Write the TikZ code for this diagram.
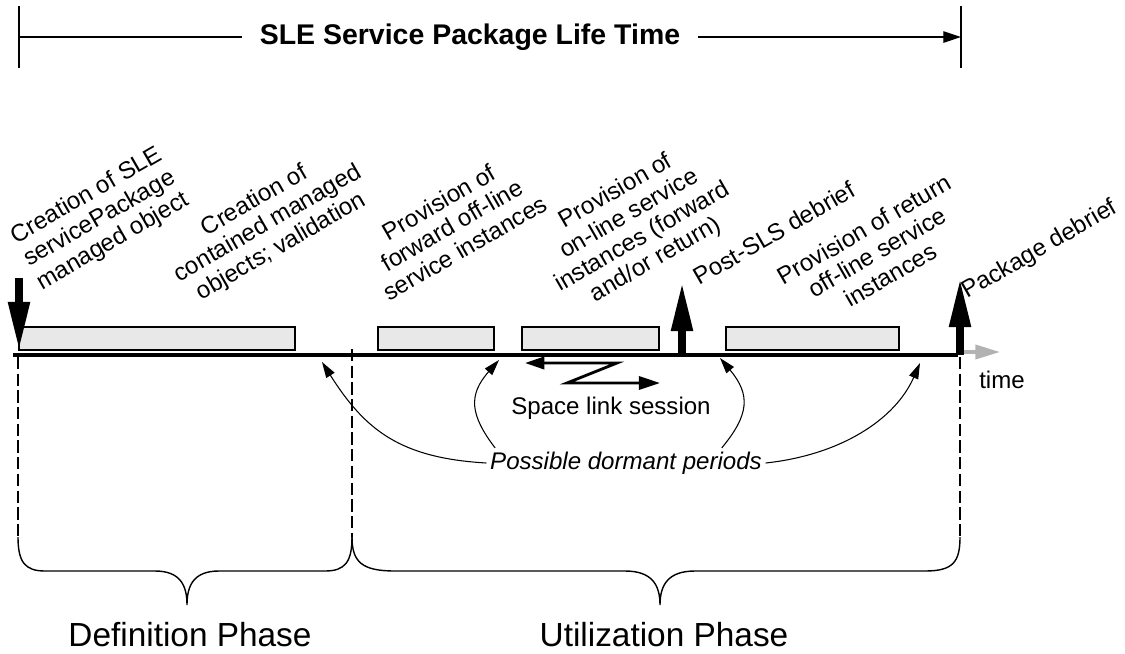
\documentclass[tikz,border=0pt]{standalone}
\usepackage{fontspec}
\setmainfont{Liberation Sans}
\usetikzlibrary{arrows.meta,positioning}

\begin{document}
\begin{tikzpicture}[x=0.02cm, y=0.02cm, >={Triangle[length=9pt,width=5.5pt]},
  slot/.style={draw, line width=0.6pt, fill=black!9},
  lbl/.style={rotate=30, align=center, inner sep=0pt, font=\fontsize{13.7}{15}\selectfont},
  marker/.style={line width=4.5pt, -{Triangle[length=28pt,width=11.5pt]}},
  vline/.style={line width=0.6pt, dash pattern=on 7pt off 2.5pt},
  brace/.style={line width=0.8pt},
  period/.style={line width=0.6pt, ->},
  phase/.style={anchor=base, font=\fontsize{19}{22}\selectfont}]
\path[use as bounding box] (0,0) rectangle (1125,-653);
\node[inner xsep=10pt, font=\fontsize{16.2}{18}\selectfont\bfseries](life) at (470,-37){SLE Service Package Life Time};
\coordinate (lstart) at (19,-37);
\coordinate (lend) at (961,-37);
\draw[line width=0.6pt] (19,-6) -- (19,-68);
\draw[line width=0.6pt] (961,-6) -- (961,-68);
\draw[line width=0.6pt] (lstart) -- (life.west);
\draw[line width=0.6pt, -{Triangle[length=10pt,width=6.5pt]}] (life.east) -- (lend);
\node[lbl](mkpkg) at (100,-219){Creation of SLE\\servicePackage\\managed object};
\node[lbl](mkobj) at (268,-224){Creation of\\contained managed\\objects; validation};
\node[lbl](fwdoff) at (452,-225){Provision of\\forward off-line\\service instances};
\node[lbl](online) at (636,-226){Provision of\\on-line service\\instances (forward\\and/or return)};
\node[lbl](postsls) at (774,-233){Post-SLS debrief};
\node[lbl](retoff) at (877,-252){Provision of return\\off-line service\\instances};
\node[lbl](pkgdeb) at (1040,-250){Package debrief};
\draw[slot] (19,-327) rectangle (295,-350);
\draw[slot] (378,-327) rectangle (494,-350);
\draw[slot] (522,-327) rectangle (659,-350);
\draw[slot] (726,-327) rectangle (899,-350);
\coordinate (t0) at (13,-355);
\coordinate (tend) at (958,-355);
\draw[line width=2.2pt] (t0) -- (tend);
\draw[black!30, line width=2pt, -{Triangle[length=14pt,width=8pt]}] (964,-352) -- (1000,-352);
\draw[marker] (19,-278) -- (19,-351);
\draw[marker] (682,-355) -- (682,-282);
\draw[marker] (960,-355) -- (960,-278);
\draw[line width=1.6pt, line join=miter, {Triangle[length=11pt,width=7pt]}-{Triangle[length=12pt,width=7.5pt]}] (525,-363) -- (617,-363) -- (567,-383) -- (660,-383);
\node[font=\fontsize{13.7}{15}\selectfont](sls) at (611,-408){Space link session};
\node[font=\fontsize{13.7}{15}\selectfont](timelbl) at (1002,-380){time};
\node[inner sep=2pt, font=\fontsize{13.7}{15}\selectfont\itshape](dormant) at (626,-463){Possible dormant periods};
\coordinate (gap1) at (322,-362);
\coordinate (gap2) at (499,-360);
\coordinate (gap3) at (720,-358);
\coordinate (gap4) at (920,-363);
\draw[period] (dormant.west) .. controls (400,-458) and (365,-430) .. (gap1);
\draw[period] ([xshift=5pt]dormant.north west) .. controls (470,-415) and (468,-395) .. (gap2);
\draw[period] ([xshift=-25pt]dormant.north east) .. controls (749,-415) and (751,-395) .. (gap3);
\draw[period] (dormant.east) .. controls (840,-455) and (895,-420) .. (gap4);
\coordinate (defstart) at (18,-537);
\coordinate (utilstart) at (352,-537);
\coordinate (utilend) at (960,-537);
\draw[vline] (18,-357) -- (defstart);
\draw[vline] (352,-349) -- (utilstart);
\draw[vline] (960,-357) -- (utilend);
\draw[brace] (defstart) .. controls (18,-562) and (25,-571) .. (45,-571) -- (155,-571) .. controls (180,-571) and (187,-585) .. (187,-605) .. controls (187,-585) and (194,-571) .. (219,-571) -- (325,-571) .. controls (345,-571) and (352,-562) .. (utilstart);
\draw[brace] (utilstart) .. controls (352,-562) and (362,-571) .. (395,-571) -- (625,-571) .. controls (652,-571) and (660,-585) .. (660,-605) .. controls (660,-585) and (668,-571) .. (695,-571) -- (925,-571) .. controls (953,-571) and (960,-562) .. (utilend);
\node[phase](defphase) at (190,-646){Definition Phase};
\node[phase](utilphase) at (664,-646){Utilization Phase};
\end{tikzpicture}
\end{document}
